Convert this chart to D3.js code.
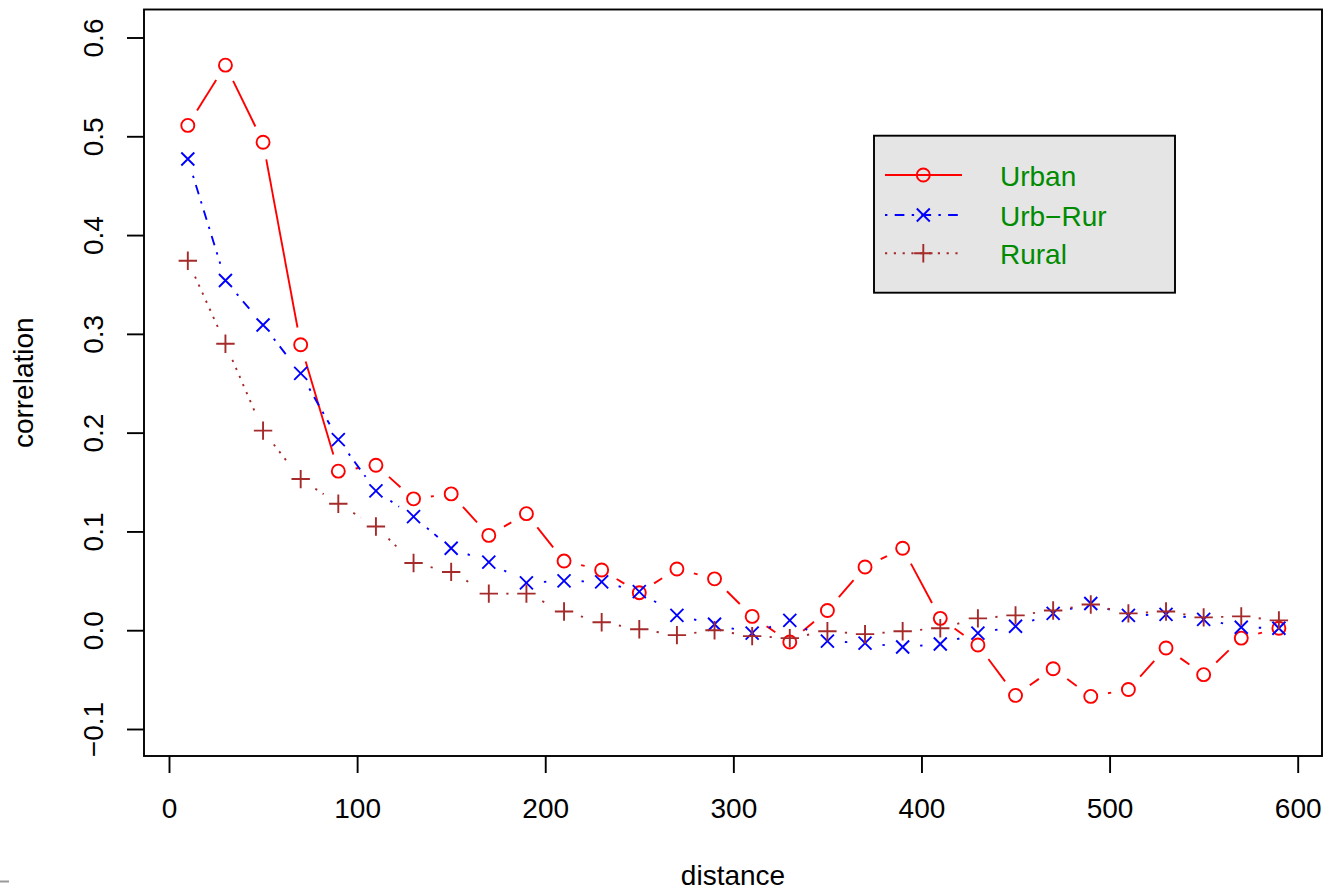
<!DOCTYPE html>
<html>
<head>
<meta charset="utf-8">
<script src="https://cdn.jsdelivr.net/npm/d3@7"></script>
<style>
  html, body { margin: 0; padding: 0; background: #fff; }
  svg { display: block; }
  text { font-family: "Liberation Sans", Arial, Helvetica, sans-serif; }
</style>
</head>
<body>
<svg id="chart" width="1323" height="892"></svg>
<script>
// Spatial correlation by distance class
const distances = [10, 30, 50, 70, 90, 110, 130, 150, 170, 190, 210, 230, 250, 270, 290,
                   310, 330, 350, 370, 390, 410, 430, 450, 470, 490, 510, 530, 550, 570, 590];
const urban = [0.511, 0.572, 0.494, 0.289, 0.161, 0.167, 0.133, 0.138, 0.096, 0.118,
               0.070, 0.061, 0.038, 0.062, 0.052, 0.014, -0.012, 0.020, 0.064, 0.083,
               0.012, -0.015, -0.066, -0.039, -0.067, -0.060, -0.018, -0.045, -0.008, 0.002];
const urbRur = [0.477, 0.354, 0.309, 0.260, 0.193, 0.141, 0.115, 0.083, 0.069, 0.048,
                0.050, 0.049, 0.039, 0.015, 0.006, -0.003, 0.010, -0.011, -0.013, -0.017,
                -0.014, -0.003, 0.004, 0.017, 0.027, 0.015, 0.016, 0.011, 0.003, 0.002];
const rural = [0.374, 0.290, 0.202, 0.153, 0.128, 0.105, 0.068, 0.059, 0.037, 0.037,
               0.019, 0.008, 0.001, -0.005, 0.000, -0.006, -0.008, -0.001, -0.004, -0.001,
               0.002, 0.012, 0.015, 0.020, 0.026, 0.017, 0.019, 0.013, 0.014, 0.010];
const seriesNames = ["Urban", "Urb\u2212Rur", "Rural"];
const xTicks = [0, 100, 200, 300, 400, 500, 600];
const yTicks = [-0.1, 0, 0.1, 0.2, 0.3, 0.4, 0.5, 0.6];

const series = [
  { name: seriesNames[0], values: urban,  color: "#FF0000", dash: null,              shape: "circle" },
  { name: seriesNames[1], values: urbRur, color: "#0000FF", dash: "2.4,7.3,9.7,7.3", shape: "cross" },
  { name: seriesNames[2], values: rural,  color: "#A52A2A", dash: "2.2,6.6",         shape: "plus" }
];

const svg = d3.select("#chart");
const box = { left: 144, right: 1322, top: 9.5, bottom: 756 };
const fontSize = 28;
const lw = 1.9;

const x = d3.scaleLinear().domain([0, 600]).range([169, 1297.7]);
const y = d3.scaleLinear().domain([-0.1, 0.6]).range([729, 37.5]);

// point symbols
const R = 6.5;
function drawSymbol(g, shape, cx, cy, color) {
  if (shape === "circle") {
    g.append("circle").attr("cx", cx).attr("cy", cy).attr("r", R)
      .attr("fill", "none").attr("stroke", color).attr("stroke-width", lw);
  } else if (shape === "cross") {
    g.append("path")
      .attr("d", `M${cx - R},${cy - R}L${cx + R},${cy + R}M${cx - R},${cy + R}L${cx + R},${cy - R}`)
      .attr("stroke", color).attr("stroke-width", lw).attr("fill", "none");
  } else {
    const h = R * Math.SQRT2;
    g.append("path")
      .attr("d", `M${cx - h},${cy}L${cx + h},${cy}M${cx},${cy - h}L${cx},${cy + h}`)
      .attr("stroke", color).attr("stroke-width", lw).attr("fill", "none");
  }
}

// lines broken around each point (type "b")
const gap = 17.5;
series.forEach(s => {
  const g = svg.append("g");
  for (let i = 0; i < distances.length - 1; i++) {
    const x0 = x(distances[i]), y0 = y(s.values[i]);
    const x1 = x(distances[i + 1]), y1 = y(s.values[i + 1]);
    const len = Math.hypot(x1 - x0, y1 - y0);
    if (len <= 2 * gap) continue;
    const ux = (x1 - x0) / len, uy = (y1 - y0) / len;
    const seg = g.append("line")
      .attr("x1", x0 + ux * gap).attr("y1", y0 + uy * gap)
      .attr("x2", x1 - ux * gap).attr("y2", y1 - uy * gap)
      .attr("stroke", s.color).attr("stroke-width", lw);
    if (s.dash) seg.attr("stroke-dasharray", s.dash);
  }
  distances.forEach((d, i) => drawSymbol(g, s.shape, x(d), y(s.values[i]), s.color));
});

// plot frame
svg.append("rect")
  .attr("x", box.left).attr("y", box.top)
  .attr("width", box.right - box.left).attr("height", box.bottom - box.top)
  .attr("fill", "none").attr("stroke", "#000").attr("stroke-width", lw);

// x axis
const xAxis = svg.append("g")
  .attr("transform", `translate(0,${box.bottom})`)
  .call(d3.axisBottom(x).tickValues(xTicks).tickSize(17).tickPadding(0).tickFormat(d3.format("d")));
xAxis.select(".domain").remove();
xAxis.selectAll(".tick line").attr("stroke", "#000").attr("stroke-width", lw);
xAxis.selectAll(".tick text")
  .attr("y", 818 - box.bottom).attr("dy", null)
  .attr("font-size", fontSize).attr("fill", "#000")
  .style("font-family", '"Liberation Sans", Arial, sans-serif');

// y axis with rotated labels
const yAxis = svg.append("g")
  .attr("transform", `translate(${box.left},0)`)
  .call(d3.axisLeft(y).tickValues(yTicks).tickSize(17)
    .tickFormat(d => d3.format(".1f")(d).replace("-", "\u2212")));
yAxis.select(".domain").remove();
yAxis.selectAll(".tick line").attr("stroke", "#000").attr("stroke-width", lw);
yAxis.selectAll(".tick text")
  .attr("x", null).attr("dy", null)
  .attr("text-anchor", "middle")
  .attr("transform", `translate(${103 - box.left},0) rotate(-90)`)
  .attr("font-size", fontSize).attr("fill", "#000")
  .style("font-family", '"Liberation Sans", Arial, sans-serif');

// axis titles
svg.append("text")
  .attr("x", (box.left + box.right) / 2).attr("y", 885)
  .attr("text-anchor", "middle").attr("font-size", fontSize).attr("fill", "#000")
  .text("distance");
svg.append("text")
  .attr("transform", `translate(33,${(box.top + box.bottom) / 2}) rotate(-90)`)
  .attr("text-anchor", "middle").attr("font-size", fontSize).attr("fill", "#000")
  .text("correlation");

// legend
const leg = svg.append("g");
leg.append("rect")
  .attr("x", 874).attr("y", 135.7).attr("width", 301).attr("height", 157)
  .attr("fill", "#E5E5E5").attr("stroke", "#000").attr("stroke-width", lw);
const legRows = [175, 215, 253.3];
series.forEach((s, i) => {
  const ly = legRows[i];
  const ln = leg.append("line")
    .attr("x1", 885).attr("x2", 962).attr("y1", ly).attr("y2", ly)
    .attr("stroke", s.color).attr("stroke-width", lw);
  if (s.dash) ln.attr("stroke-dasharray", s.dash);
  drawSymbol(leg, s.shape, 923.3, ly, s.color);
  leg.append("text")
    .attr("x", 1000).attr("y", ly + 10.5)
    .attr("font-size", fontSize).attr("fill", "#008B00")
    .text(s.name);
});

// small mark at the lower-left edge
svg.append("line")
  .attr("x1", 0).attr("x2", 9).attr("y1", 881.5).attr("y2", 881.5)
  .attr("stroke", "#999").attr("stroke-width", 2);
</script>
</body>
</html>
